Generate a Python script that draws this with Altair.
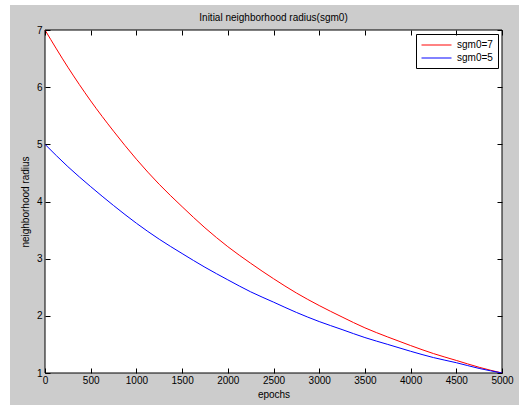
import altair as alt
import pandas as pd

# ---- data ----
epochs = [0, 250, 500, 750, 1000, 1250, 1500, 1750, 2000, 2250, 2500,
          2750, 3000, 3250, 3500, 3750, 4000, 4250, 4500, 4750, 5000]
sgm0_7 = [7.00, 6.35, 5.76, 5.23, 4.74, 4.30, 3.91, 3.54, 3.21, 2.92, 2.65,
          2.40, 2.18, 1.98, 1.79, 1.63, 1.48, 1.34, 1.22, 1.10, 1.00]
sgm0_5 = [5.00, 4.61, 4.26, 3.93, 3.62, 3.34, 3.09, 2.85, 2.63, 2.42, 2.24,
          2.06, 1.90, 1.76, 1.62, 1.50, 1.38, 1.27, 1.18, 1.08, 1.00]
series_names = ["sgm0=7", "sgm0=5"]
series_colors = ["#ff0000", "#0000ff"]
x_ticks = [0, 500, 1000, 1500, 2000, 2500, 3000, 3500, 4000, 4500, 5000]
y_ticks = [1, 2, 3, 4, 5, 6, 7]
title_text = "Initial neighborhood radius(sgm0)"

W, H = 457, 343
FONT = "Liberation Sans"

rows = []
for name, vals in zip(series_names, [sgm0_7, sgm0_5]):
    for e, v in zip(epochs, vals):
        rows.append({"epoch": e, "radius": v, "series": name})
df = pd.DataFrame(rows)

xscale = alt.Scale(domain=[0, 5000], nice=False, zero=False)
yscale = alt.Scale(domain=[1, 7], nice=False, zero=False)

common = dict(tickSize=5, offset=-5, domain=False, grid=False,
              tickColor="black", tickWidth=1, zindex=1,
              labelFont=FONT, labelFontSize=10, labelColor="black",
              titleFont=FONT, titleFontSize=10, titleFontWeight="normal",
              titleColor="black", labelFlush=False, labelOverlap=False)

one = alt.Data(values=[{"k": 1}])

bg = alt.Chart(one).mark_rect(color="#cccccc").encode(
    x=alt.value(-35), x2=alt.value(W + 17), y=alt.value(-25), y2=alt.value(H + 32))

plot_bg = alt.Chart(one).mark_rect(fill="white", stroke="black", strokeWidth=1).encode(
    x=alt.value(0), x2=alt.value(W), y=alt.value(0), y2=alt.value(H))

title = alt.Chart(one).mark_text(text=title_text, font=FONT, fontSize=10,
                                 color="black").encode(
    x=alt.value(W / 2), y=alt.value(-12))

lines = alt.Chart(df).mark_line(strokeWidth=1, interpolate="monotone").encode(
    x=alt.X("epoch:Q", scale=xscale,
            axis=alt.Axis(orient="bottom", values=x_ticks, title="epochs",
                          format="d", labelPadding=2, titlePadding=4,
                          **common)),
    y=alt.Y("radius:Q", scale=yscale,
            axis=alt.Axis(orient="left", values=y_ticks, format="d",
                          title="neighborhood radius",
                          labelPadding=3, titlePadding=6, **common)),
    color=alt.Color("series:N",
                    scale=alt.Scale(domain=series_names, range=series_colors),
                    legend=alt.Legend(title=None, orient="top-right", offset=4,
                                      padding=5, fillColor="white",
                                      strokeColor="black",
                                      symbolType="M-3,0H3", symbolSize=100,
                                      symbolStrokeWidth=1.5, symbolOffset=9.5,
                                      symbolOpacity=0.65,
                                      labelOffset=14.5, labelFont=FONT,
                                      labelFontSize=10, labelColor="black",
                                      rowPadding=2)),
)

frame_axes = alt.Chart(df).mark_line(opacity=0).encode(
    x=alt.X("epoch:Q", scale=xscale,
            axis=alt.Axis(orient="top", values=x_ticks, labels=False,
                          title=None, **common)),
    y=alt.Y("radius:Q", scale=yscale,
            axis=alt.Axis(orient="right", values=y_ticks, labels=False,
                          title=None, **common)),
    detail="series:N",
)

chart = alt.layer(bg, plot_bg, lines, frame_axes, title).resolve_axis(
    x="independent", y="independent"
).properties(
    width=W, height=H,
    padding={"left": 45, "top": 30, "right": 17, "bottom": 32},
    autosize=alt.AutoSizeParams(type="none"),
    background="white",
).configure_view(strokeWidth=0)

chart.save("out.html", embed_options={"renderer": "svg", "actions": False})
